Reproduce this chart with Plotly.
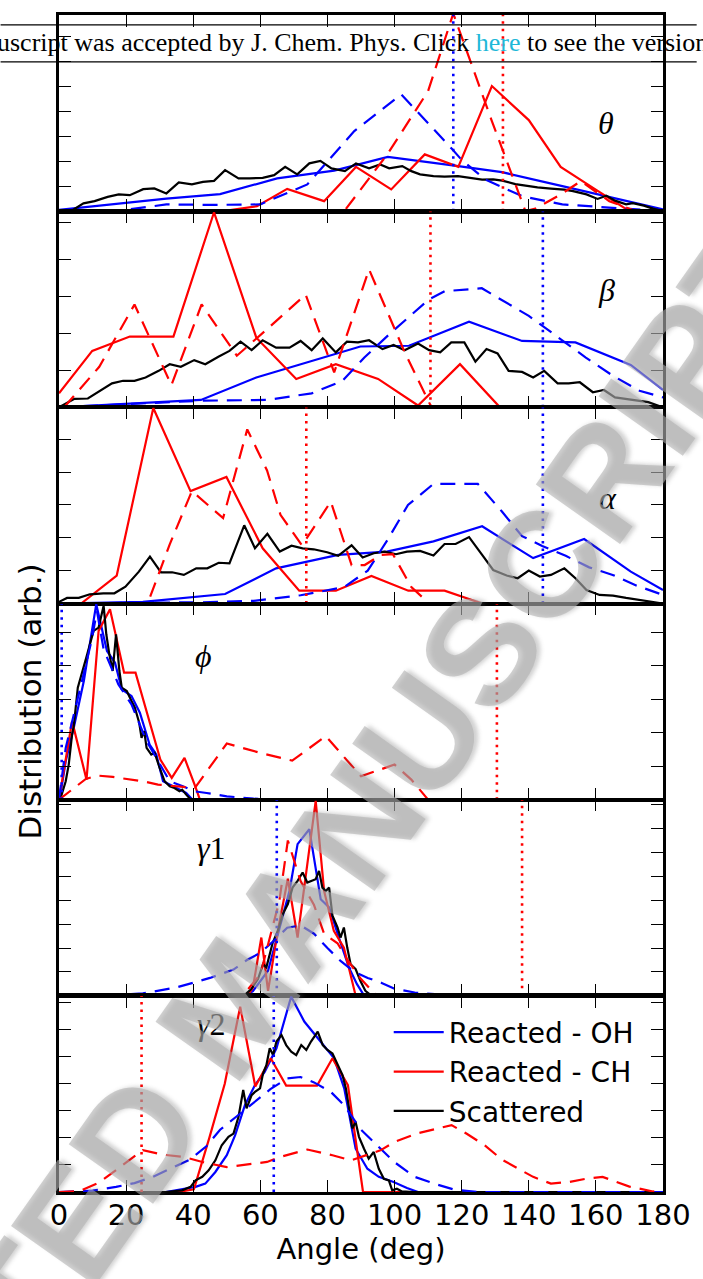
import plotly.graph_objects as go
from plotly.subplots import make_subplots

# ---------------- data (x in degrees, y in arbitrary units = tick spacings) ----------------
# theta
theta_oh_x = [0, 16, 32, 48, 65, 82, 98, 119, 132, 150, 163, 180]
theta_oh_y = [0.05, 0.28, 0.5, 0.68, 1.31, 1.62, 2.17, 1.8, 1.56, 1.0, 0.6, 0.07]
theta_ohd_x = [0, 18, 32, 46, 60, 74, 88, 102, 117, 120, 127, 138, 150, 164, 178, 180]
theta_ohd_y = [0, 0.02, 0.27, 0.25, 0.27, 1.07, 3.2, 4.67, 2.5, 2.05, 1.27, 0.6, 0.27, 0.13, 0.02, 0]
theta_ch_x = [0, 10, 20, 30, 40, 49, 59, 68, 79, 88.5, 99, 109, 119, 129, 140, 149.5, 159.5, 170, 180]
theta_ch_y = [0, 0, 0, 0, 0, 0, 0.2, 0.89, 0.4, 1.77, 0.87, 2.27, 1.77, 5.0, 3.64, 1.77, 0.9, 0, 0]
theta_chd_x = [0, 20, 40, 60, 75, 85, 98, 110, 117.5, 129, 139, 142, 149.5, 155.5, 164, 172, 180]
theta_chd_y = [0, 0, 0, 0, 0, 0, 2.3, 4.8, 7.9, 3.6, 0.0, 0.1, 0.67, 1.2, 0.4, 0, 0]
theta_sc_x = [0, 4, 7.3, 10.6, 14.5, 17.8, 21.1, 25.1, 28.4, 32, 35.7, 39.6, 42.9, 46.2, 49.5, 53.5,
              56.8, 60.7, 64.1, 67.4, 71, 74.6, 77.9, 81.2, 85.2, 88.5, 92.4, 95.7, 98.4, 102.3, 105,
              107.6, 111.6, 114.9, 118.9, 122.8, 126.1, 129.4, 132.1, 136, 139.3, 142.6, 146.6, 150.6,
              153.2, 157.2, 160.5, 163.1, 165.7, 169, 171, 174.3, 177, 180]
theta_sc_y = [0, 0.04, 0.31, 0.4, 0.57, 0.67, 0.64, 0.88, 0.91, 0.71, 1.15, 1.07, 1.17, 1.21, 1.64, 1.31,
              1.31, 1.33, 1.44, 1.77, 1.47, 1.91, 2.01, 1.71, 1.6, 1.91, 1.71, 1.87, 1.71, 1.8, 1.6,
              1.47, 1.4, 1.38, 1.4, 1.33, 1.26, 1.27, 1.22, 1.08, 1.0, 0.95, 0.9, 0.86,
              0.8, 0.67, 0.49, 0.62, 0.42, 0.27, 0.32, 0.22, 0.1, 0]

# beta
beta_oh_x = [0, 42.3, 58.8, 89.8, 104.3, 122.2, 138, 153.9, 170.4, 180]
beta_oh_y = [0, 0.2, 0.81, 1.65, 1.67, 2.32, 1.8, 1.76, 1.15, 0.47]
beta_ohd_x = [0, 22.5, 42.3, 62, 75.3, 84.5, 91, 99, 110.3, 115, 126, 140, 149, 157, 165, 173, 180]
beta_ohd_y = [0, 0.09, 0.18, 0.2, 0.38, 0.72, 1.35, 2.03, 2.93, 3.15, 3.23, 2.48, 1.89, 1.35, 0.86, 0.45, 0.27]
beta_ch_x = [0, 9.9, 21.1, 34.1, 46.2, 58.8, 70.7, 82.5, 95.1, 107, 119.5, 131.4, 143, 155, 167, 180]
beta_ch_y = [0.38, 1.53, 1.92, 1.92, 5.29, 1.89, 0.77, 1.17, 0.77, 0.05, 1.17, 0, 0, 0, 0, 0]
beta_chd_x = [1.5, 12, 22.5, 33.5, 42.5, 53, 63, 73.5, 82, 92.4, 103, 111, 120, 180]
beta_chd_y = [0, 1.1, 2.79, 0.6, 2.79, 1.4, 2.2, 3.06, 0.95, 3.74, 1.5, 0, 0, 0]
beta_sc_x = [0, 4.6, 8.6, 15.8, 19.1, 22.5, 25.8, 29.7, 33, 36.3, 40.3, 43.6, 47.5, 50.8, 54.1, 57.4,
             60.7, 64.7, 68.7, 72, 75.3, 78.6, 82.5, 85.8, 89.1, 92.4, 96.4, 99.7, 103, 107, 110.3,
             113.6, 116.9, 120.8, 124.1, 127.4, 130.7, 134, 138, 141.3, 144.6, 148.6, 151.9, 155.2,
             159.1, 162.4, 165.7, 169, 172.3, 175.6, 180]
beta_sc_y = [0, 0.23, 0.24, 0.65, 0.72, 0.72, 0.81, 0.99, 1.17, 1.1, 1.28, 1.17, 1.37, 1.53, 1.78, 1.55,
             1.82, 1.62, 1.62, 1.8, 1.55, 1.87, 1.49, 1.78, 1.76, 1.82, 1.58, 1.69, 1.55, 1.73, 1.55,
             1.49, 1.76, 1.76, 1.24, 1.58, 1.46, 0.99, 0.96, 0.81, 0.99, 0.65, 0.65, 0.68,
             0.41, 0.47, 0.27, 0.23, 0.2, 0.14, 0]

# alpha
alpha_oh_x = [0, 25, 49.5, 64.7, 83.2, 97.7, 111.6, 126.1, 141.3, 156.5, 170.4, 180]
alpha_oh_y = [0, 0.05, 0.29, 1.07, 1.48, 1.58, 1.89, 2.35, 1.38, 1.96, 0.97, 0.41]
alpha_ohd_x = [0, 32, 45, 58, 72, 85, 92, 98, 104, 111.6, 124.8, 132, 138, 144, 151, 158, 165, 172, 180]
alpha_ohd_y = [0, 0.02, 0.04, 0.08, 0.25, 0.5, 1.0, 1.95, 3.0, 3.64, 3.64, 2.8, 2.05, 1.75, 1.45, 1.1, 0.87, 0.55, 0.26]
alpha_ch_x = [0, 6.6, 17.2, 28.1, 39.2, 49.9, 60.7, 71.6, 82.5, 93.1, 104.1, 114.9, 126.1, 137, 148, 159, 170, 180]
alpha_ch_y = [0, 0, 0.85, 5.95, 3.42, 3.85, 1.68, 0.39, 0.39, 0.84, 0.39, 0.39, 0, 0, 0, 0, 0, 0]
alpha_chd_x = [0, 10, 20, 26.4, 33, 39.6, 48.9, 56.1, 62, 66, 72.4, 81, 87.2, 91.1, 96, 99.5, 105, 110.3, 120, 180]
alpha_chd_y = [0, 0, 0, 0, 1.8, 3.42, 2.6, 5.3, 4.05, 2.7, 1.77, 3.1, 1.17, 1.17, 1.48, 1.5, 0.5, 0, 0, 0]
alpha_sc_x = [0, 2.4, 5.9, 9.2, 13.2, 16.5, 19.8, 23.8, 27.1, 30.4, 33.7, 37.2, 40.9, 44.2, 47.6, 50.8,
              55.2, 58.4, 62.1, 65.8, 69.3, 72.6, 75.9, 79.9, 83.2, 87.2, 90.5, 93.8, 97.1, 100.4,
              103.7, 107.6, 111.6, 114.9, 118.2, 122.2, 126.1, 129.4, 133.4, 136.7, 140, 143.3,
              146.6, 150.6, 153.9, 157.2, 161.1, 165.1, 169, 173, 177, 180]
alpha_sc_y = [0.05, 0.17, 0.17, 0.28, 0.31, 0.31, 0.51, 0.97, 1.43, 0.95, 0.95, 0.87, 1.07, 1.07, 1.24, 1.22,
              2.38, 1.68, 2.12, 1.58, 1.76, 1.68, 1.65, 1.56, 1.45, 1.77, 1.4, 1.53, 1.58, 1.5,
              1.58, 1.6, 1.46, 1.81, 1.81, 2.02, 1.48, 1.02, 0.85, 0.77, 1.0, 0.82,
              0.87, 1.07, 0.77, 0.41, 0.26, 0.24, 0.17, 0.1, 0.05, 0]

# phi
phi_oh_x = [0, 0.5, 2, 4.4, 7.4, 11.1, 14.3, 16.7, 18.7, 21.6, 24.1, 27, 29, 31, 34, 37.9, 39.8, 50, 60, 180]
phi_oh_y = [0, 0.2, 1.15, 2.15, 3.55, 5.85, 4.45, 4.1, 3.3, 3.1, 2.6, 1.65, 1.35, 0.55, 0.4, 0.2, 0, 0, 0, 0]
phi_ohd_x = [0, 2, 5.4, 9.8, 11.3, 13.3, 17.7, 21.6, 26.1, 29, 33, 36.9, 40.3, 44, 50, 58, 65, 180]
phi_ohd_y = [0, 1.55, 2.95, 4.8, 5.65, 4.5, 3.45, 2.85, 1.75, 1.25, 0.55, 0.4, 0.25, 0.2, 0.1, 0.03, 0, 0]
phi_ch_x = [0, 3.9, 8.2, 11.8, 15.2, 19.4, 22.8, 26.5, 30.2, 33.6, 37.4, 40.6, 42, 50, 180]
phi_ch_y = [0, 2.35, 0.6, 5.05, 5.7, 3.8, 3.8, 2.5, 1.2, 0.65, 1.25, 0.4, 0, 0, 0]
phi_chd_x = [0, 4, 8, 11.5, 16, 25, 29.5, 40.5, 50, 60, 69.5, 79.5, 90, 100, 105, 110, 120, 180]
phi_chd_y = [0, 0.3, 0.62, 0.72, 0.68, 0.55, 0.45, 0.35, 1.68, 1.4, 1.17, 1.9, 0.7, 1.05, 0.6, 0, 0, 0]
phi_sc_x = [0, 0.5, 2, 2.9, 3.9, 4.4, 5.6, 6.9, 8.4, 10.3, 11.8, 13.3, 14.1, 15, 16, 17, 18, 18.7, 20.2,
            21.6, 22.6, 23.9, 24.6, 25.4, 26.1, 27.5, 28.5, 30, 31.5, 33, 34.4, 35.9, 36.7, 37.9, 39.3,
            45, 55, 180]
phi_sc_y = [0, 0.05, 0.55, 1.05, 1.95, 2.2, 3.35, 3.85, 4.35, 5.05, 5.15, 5.8, 4.95, 4.35, 3.85, 4.95,
            3.85, 3.35, 3.25, 2.95, 2.75, 2.3, 1.85, 2.05, 1.55, 1.35, 1.4, 0.95, 0.55, 0.4, 0.35, 0.25,
            0.3, 0.15, 0, 0.02, 0, 0]

# gamma1
g1_oh_x = [0, 50, 55.4, 57.8, 62.3, 64.7, 67.2, 68.7, 71.1, 74.6, 78, 80.5, 83.9, 86.4, 88.8, 90.8, 95, 180]
g1_oh_y = [0, 0, 0, 0.2, 1.05, 2.3, 3.55, 4.4, 6.35, 6.97, 4.04, 3.7, 2.23, 1.19, 0.49, 0.04, 0, 0]
g1_ohd_x = [0, 15, 25, 35, 45, 52, 56, 60, 64, 68, 72, 76, 80, 84, 88, 92, 96, 100, 106, 112, 120, 130, 180]
g1_ohd_y = [0, 0.02, 0.1, 0.35, 0.75, 1.1, 1.5, 1.8, 2.3, 2.85, 2.95, 2.6, 2.0, 1.45, 1.0, 0.75, 0.55, 0.3,
            0.14, 0.07, 0.02, 0, 0]
g1_ch_x = [0, 50, 56.4, 57.8, 60.3, 62.3, 65.2, 68.2, 71.1, 76.5, 79, 81.9, 84.9, 88.3, 90, 180]
g1_ch_y = [0, 0, 0.04, 0.35, 2.44, 0.21, 2.72, 4.9, 2.44, 8.16, 4.39, 2.72, 2.02, 0.07, 0, 0]
g1_chd_x = [0, 50, 55, 60, 65.7, 68.2, 72, 76, 79, 83, 86, 90, 94, 96, 180]
g1_chd_y = [0, 0, 0.05, 0.9, 4.0, 6.5, 4.8, 3.8, 2.6, 2.2, 1.5, 0.7, 0.1, 0, 0]
g1_sc_x = [0, 50, 55.4, 57.3, 59.3, 60.8, 61.8, 62.8, 63.7, 65.2, 66.7, 68.2, 69.6, 71.1, 72.6, 74, 75.5,
           76.5, 77.5, 78.5, 79.5, 80.5, 81.5, 83, 83.9, 84.9, 85.9, 86.9, 88.4, 89.8, 91.3, 92.8, 100, 180]
g1_sc_y = [0, 0, 0.04, 0.28, 0.7, 1.32, 1.19, 1.81, 2.23, 2.72, 3.42, 3.84, 4.53, 4.81, 5.16, 4.74, 4.81,
           4.88, 5.23, 4.53, 4.39, 4.53, 3.35, 2.86, 2.44, 2.86, 2.02, 1.32, 1.12, 0.63, 0.21, 0.04, 0, 0]

# gamma2
g2_oh_x = [0, 31.8, 40.7, 43.6, 46.6, 50, 52.5, 55.4, 58.4, 61.3, 64.8, 69.2, 73.1, 77.1, 82, 85,
           88.4, 91.9, 95.3, 99.7, 103.7, 107, 180]
g2_oh_y = [0, 0, 0.19, 0.31, 0.74, 1.36, 2.1, 3.21, 3.95, 4.44, 5.31, 7.22, 6.3, 5.68, 4.94, 3.83,
           1.6, 0.86, 0.56, 0.37, 0.15, 0, 0]
g2_ohd_x = [0, 10, 17, 22.5, 28, 33, 39, 44, 48, 53, 58, 63, 68, 72, 76, 81, 85, 90, 95, 100, 106, 112, 118, 125, 180]
g2_ohd_y = [0, 0.05, 0.19, 0.33, 0.56, 0.86, 1.2, 1.7, 2.3, 2.8, 3.3, 3.8, 4.2, 4.25, 4.05, 3.7, 3.2,
            2.3, 1.7, 1.1, 0.56, 0.3, 0.08, 0, 0]
g2_ch_x = [0, 35.6, 40.2, 44.8, 49.4, 54, 58.5, 63.1, 67.7, 72.3, 76.9, 81.5, 86.1, 90.6, 95, 180]
g2_ch_y = [0, 0, 0.1, 2.0, 4.0, 6.85, 3.9, 4.94, 3.93, 3.93, 3.93, 4.94, 3.95, 0, 0, 0]
g2_chd_x = [0, 6, 12, 18, 25, 31, 37, 43, 50, 62, 66, 74, 81.5, 87, 95.8, 100, 106.6, 117, 121.4, 126.8,
            132, 137, 141.3, 146.6, 152, 157, 162, 170, 177, 180]
g2_chd_y = [0, 0.03, 0.35, 0.9, 1.55, 1.38, 1.3, 1.1, 0.92, 1.11, 1.3, 1.57, 1.36, 1.17, 1.54, 1.85, 2.16,
            2.47, 2.16, 1.73, 1.2, 0.85, 0.56, 0.31, 0.37, 0.49, 0.56, 0.2, 0.02, 0]
g2_sc_x = [0, 31.8, 36.7, 39.2, 40.7, 42.7, 44.6, 46.6, 48.5, 50.5, 52, 53.5, 54.9, 55.9, 57.4, 58.4,
           59.9, 60.8, 61.8, 62.8, 63.8, 64.8, 66.3, 67.7, 69.2, 70.7, 72.2, 73.7, 75.1, 77.1, 78.6,
           80, 81.5, 83, 84.5, 85.5, 86.4, 87.4, 88.4, 89.4, 90.9, 92.3, 93.8, 95.3, 96.8, 98.3, 99.3,
           100.7, 102.2, 105.6, 180]
g2_sc_y = [0, 0, 0.06, 0.19, 0.43, 0.56, 0.8, 1.17, 1.73, 2.04, 2.16, 2.78, 3.77, 3.09, 3.58, 3.7,
           3.83, 4.38, 4.69, 5.31, 5.06, 5.56, 5.8, 5.43, 5.19, 5.06, 5.43, 5.25, 5.56, 5.93, 5.43,
           5.25, 5.12, 4.69, 4.32, 3.83, 3.15, 2.35, 2.59, 2.04, 1.6, 1.23, 1.48, 0.86, 0.49, 0.43, 0.06,
           0.12, 0.02, 0, 0]

# mean-angle markers (dotted verticals): OH, CH
vline_oh = [117.5, 144.2, 144.2, 0.8, 64.9, 64.0]
vline_ch = [132.3, 110.7, 73.7, 130.5, 138.0, 24.6]

# panel labels and y extents (in tick units)
panel_labels = ["<i>θ</i>", "<i>β</i>", "<i>α</i>", "<i>ϕ</i>", "<i>γ</i>1", "<i>γ</i>2"]
label_x = [162.9, 163.2, 163.5, 43.1, 45.4, 45.4]
label_yfrac = [0.45, 0.60, 0.54, 0.73, 0.756, 0.858]
panel_top = [7.84, 5.32, 5.97, 5.87, 8.21, 7.25]

x_ticks = [0, 20, 40, 60, 80, 100, 120, 140, 160, 180]
legend_names = ["Reacted - OH", "Reacted - CH", "Scattered"]

panels = [
    (theta_oh_x, theta_oh_y, theta_ohd_x, theta_ohd_y, theta_ch_x, theta_ch_y, theta_chd_x, theta_chd_y, theta_sc_x, theta_sc_y),
    (beta_oh_x, beta_oh_y, beta_ohd_x, beta_ohd_y, beta_ch_x, beta_ch_y, beta_chd_x, beta_chd_y, beta_sc_x, beta_sc_y),
    (alpha_oh_x, alpha_oh_y, alpha_ohd_x, alpha_ohd_y, alpha_ch_x, alpha_ch_y, alpha_chd_x, alpha_chd_y, alpha_sc_x, alpha_sc_y),
    (phi_oh_x, phi_oh_y, phi_ohd_x, phi_ohd_y, phi_ch_x, phi_ch_y, phi_chd_x, phi_chd_y, phi_sc_x, phi_sc_y),
    (g1_oh_x, g1_oh_y, g1_ohd_x, g1_ohd_y, g1_ch_x, g1_ch_y, g1_chd_x, g1_chd_y, g1_sc_x, g1_sc_y),
    (g2_oh_x, g2_oh_y, g2_ohd_x, g2_ohd_y, g2_ch_x, g2_ch_y, g2_chd_x, g2_chd_y, g2_sc_x, g2_sc_y),
]

BLUE, RED, BLACK = "#0000ff", "#ff0000", "#000000"
LW = 2.2
DASH = "15px,9px"
DOT = "2.5px,5px"
XLW = 1.6   # shared boundaries are drawn twice -> ~3px
YLW = 2.6

fig = make_subplots(rows=6, cols=1, shared_xaxes=True, vertical_spacing=0)

for i, p in enumerate(panels):
    row = i + 1
    ohx, ohy, ohdx, ohdy, chx, chy, chdx, chdy, scx, scy = p
    last = (row == 6)
    fig.add_trace(go.Scatter(x=ohx, y=ohy, mode="lines", line=dict(color=BLUE, width=LW),
                             name=legend_names[0], showlegend=last, legendrank=1), row=row, col=1)
    fig.add_trace(go.Scatter(x=chx, y=chy, mode="lines", line=dict(color=RED, width=LW),
                             name=legend_names[1], showlegend=last, legendrank=2), row=row, col=1)
    fig.add_trace(go.Scatter(x=scx, y=scy, mode="lines", line=dict(color=BLACK, width=LW),
                             name=legend_names[2], showlegend=last, legendrank=3), row=row, col=1)
    fig.add_trace(go.Scatter(x=ohdx, y=ohdy, mode="lines", line=dict(color=BLUE, width=LW, dash=DASH),
                             showlegend=False), row=row, col=1)
    fig.add_trace(go.Scatter(x=chdx, y=chdy, mode="lines", line=dict(color=RED, width=LW, dash=DASH),
                             showlegend=False), row=row, col=1)
    top = panel_top[i]
    fig.add_trace(go.Scatter(x=[vline_oh[i], vline_oh[i]], y=[0, top], mode="lines",
                             line=dict(color=BLUE, width=2.6, dash=DOT), showlegend=False), row=row, col=1)
    fig.add_trace(go.Scatter(x=[vline_ch[i], vline_ch[i]], y=[0, top], mode="lines",
                             line=dict(color=RED, width=2.6, dash=DOT), showlegend=False), row=row, col=1)

    fig.update_yaxes(range=[0, top], tick0=0, dtick=1, ticks="inside", ticklen=12, tickwidth=1.4,
                     tickcolor="black", showticklabels=False, showgrid=False, zeroline=False,
                     showline=True, linecolor="black", linewidth=YLW, mirror="ticks", row=row, col=1)
    fig.update_xaxes(range=[0, 180], tickvals=x_ticks, ticks="inside", ticklen=12, tickwidth=1.4,
                     tickcolor="black", showgrid=False, zeroline=False, showline=True, linecolor="black",
                     linewidth=(2.6 if row in (1, 6) else XLW), mirror="ticks", showticklabels=last,
                     row=row, col=1)

    yref = "y domain" if row == 1 else f"y{row} domain"
    xref = "x" if row == 1 else f"x{row}"
    fig.add_annotation(x=label_x[i], y=label_yfrac[i], xref=xref, yref=yref, text=panel_labels[i],
                       showarrow=False, font=dict(family="Liberation Serif", size=32, color="black"),
                       xanchor="center", yanchor="middle")

fig.update_xaxes(tickfont=dict(family="DejaVu Sans", size=29, color="black"), ticklabelstandoff=-5,
                 row=6, col=1)
fig.update_xaxes(title=dict(text="Angle (deg)", font=dict(family="DejaVu Sans", size=29, color="black"),
                            standoff=4), row=6, col=1)

W, H = 703, 1279
L, R, T, B = 59, 34, 12, 87
pw, ph = W - L - R, H - T - B

def px2paper(px, py):
    return (px - L) / pw, (H - B - py) / ph

# y axis title
yx, yy = px2paper(30, 700)
fig.add_annotation(x=yx, y=yy, xref="paper", yref="paper", text="Distribution (arb.)", textangle=-90,
                   showarrow=False, font=dict(family="DejaVu Sans", size=31, color="black"),
                   xanchor="center", yanchor="middle")

# watermark
wx, wy = px2paper(232, 1005)
fig.add_annotation(x=wx, y=wy, xref="paper", yref="paper", text="<b>ACCEPTED MANUSCRIPT</b>", textangle=-54.7,
                   showarrow=False,
                   font=dict(family="Liberation Sans", size=150, color="rgba(175,175,175,0.58)",
                             shadow="3px 3px 4px rgba(80,80,80,0.45)"),
                   xanchor="center", yanchor="middle")

# banner strip from the PDF page
bx0, _ = px2paper(0, 0)
bx1, _ = px2paper(703, 0)
_, by0 = px2paper(0, 22)
_, by1 = px2paper(0, 59)
for yb in (by0, by1):
    fig.add_shape(type="line", xref="paper", yref="paper", x0=bx0, x1=bx1, y0=yb, y1=yb,
                  line=dict(color="black", width=1.3))
tx, ty = px2paper(-6, 40)
fig.add_annotation(x=tx, y=ty, xref="paper", yref="paper",
                   text='uscript was accepted by J. Chem. Phys. Click <span style="color:#1fb8d8">here</span> to see the version of record.',
                   showarrow=False, font=dict(family="Liberation Serif", size=26, color="black"),
                   xanchor="left", yanchor="middle")

lx, ly = px2paper(392, 1007)
fig.update_layout(
    width=W, height=H, margin=dict(l=L, r=R, t=T, b=B),
    plot_bgcolor="white", paper_bgcolor="white",
    showlegend=True,
    legend=dict(x=lx, y=ly, xanchor="left", yanchor="top", bgcolor="rgba(0,0,0,0)", itemwidth=50,
                font=dict(family="DejaVu Sans", size=28, color="black"), traceorder="normal"),
)

fig.write_html("out.html")
